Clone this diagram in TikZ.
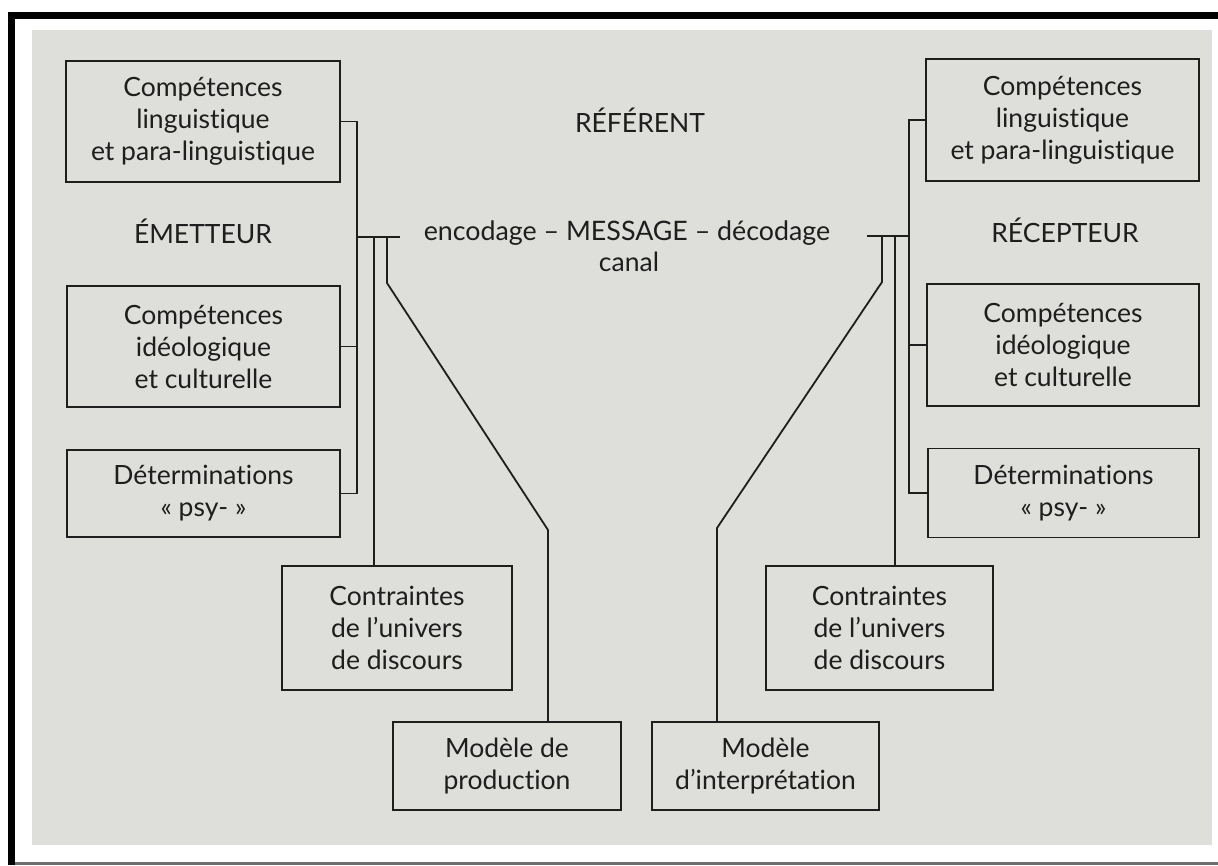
\documentclass[tikz,border=0pt]{standalone}
\usepackage{fontspec}
\setmainfont{Lato}[Ligatures=NoCommon]
\definecolor{paper}{RGB}{222,222,219}
\definecolor{ink}{RGB}{30,30,30}
\definecolor{rule}{RGB}{110,110,110}
\begin{document}
\begin{tikzpicture}[x=1pt,y=-1pt,
  txt/.style={text=ink, inner sep=0pt, font=\fontsize{26.5}{32}\selectfont},
  box/.style={txt, draw=ink, line width=1.8pt, align=center},
  wire/.style={draw=ink, line width=1.8pt, line join=miter}]
\useasboundingbox (0,0) rectangle (1218,865);
% page, grey sheet and frame
\fill[white] (0,0) rectangle (1218,865);
\fill[paper] (32,30) rectangle (1212,845);
\fill[black] (8,12) rectangle (1218,19);
\fill[black] (8,12) rectangle (15,865);
\fill[rule] (15,862) rectangle (1218,865);

% sender side
\node[box, minimum width=274pt, minimum height=121pt] (L1) at (203,121.5) {Compétences\\linguistique\\et para-linguistique};
\node[box, minimum width=273pt, minimum height=121pt] (L2) at (203.5,346.5) {Compétences\\idéologique\\et culturelle};
\node[box, minimum width=273pt, minimum height=87pt] (L3) at (203.5,493.5) {Déterminations\\«~psy-~»};
\node[box, minimum width=230pt, minimum height=124pt] (LC) at (397,628) {Contraintes\\de l’univers\\de discours};
\node[box, minimum width=228pt, minimum height=88pt] (LM) at (507,766) {Modèle de\\production};
\node[txt, anchor=base] (emet) at (203,243) {ÉMETTEUR};

% receiver side
\node[box, minimum width=273pt, minimum height=122pt] (R1) at (1062.5,120) {Compétences\\linguistique\\et para-linguistique};
\node[box, minimum width=272pt, minimum height=122pt] (R2) at (1063,345) {Compétences\\idéologique\\et culturelle};
\node[box, minimum width=271pt, minimum height=89pt] (R3) at (1063.5,493) {Déterminations\\«~psy-~»};
\node[box, minimum width=227pt, minimum height=124pt] (RC) at (879.5,628) {Contraintes\\de l’univers\\de discours};
\node[box, minimum width=227pt, minimum height=88pt] (RM) at (765.5,766) {Modèle\\d’interprétation};
\node[txt, anchor=base] (recep) at (1065,242) {RÉCEPTEUR};

% centre
\node[txt, anchor=base] (ref) at (640,132) {RÉFÉRENT};
\node[txt, anchor=base, font=\fontsize{26.8}{32}\selectfont] (msg) at (627,240) {encodage – MESSAGE – décodage};
\node[txt, anchor=base] (canal) at (629,271) {canal};

% sender connectors
\coordinate (Lbus) at (357,237);
\coordinate (Lend) at (400,237);
\coordinate (Ltap1) at (374,237);
\coordinate (Ltap2) at (387,237);
\coordinate (Lbend1) at (387,283);
\coordinate (Lbend2) at (548,530);
\draw[wire] (L1.east) -- (L1.east -| Lbus) -- (L3.east -| Lbus) -- (L3.east);
\draw[wire] (L2.east) -- (L2.east -| Lbus);
\draw[wire] (Lbus) -- (Lend);
\draw[wire] (Ltap1) -- (Ltap1 |- LC.north);
\draw[wire] (Ltap2) -- (Lbend1) -- (Lbend2) -- (Lbend2 |- LM.north);

% receiver connectors
\coordinate (Rbus) at (909,236);
\coordinate (Rend) at (867,236);
\coordinate (Rtap1) at (895,236);
\coordinate (Rtap2) at (882,236);
\coordinate (Rbend1) at (882,282);
\coordinate (Rbend2) at (717,528);
\draw[wire] (R1.west) -- (R1.west -| Rbus) -- (R3.west -| Rbus) -- (R3.west);
\draw[wire] (R2.west) -- (R2.west -| Rbus);
\draw[wire] (Rend) -- (Rbus);
\draw[wire] (Rtap1) -- (Rtap1 |- RC.north);
\draw[wire] (Rtap2) -- (Rbend1) -- (Rbend2) -- (Rbend2 |- RM.north);
\end{tikzpicture}
\end{document}
